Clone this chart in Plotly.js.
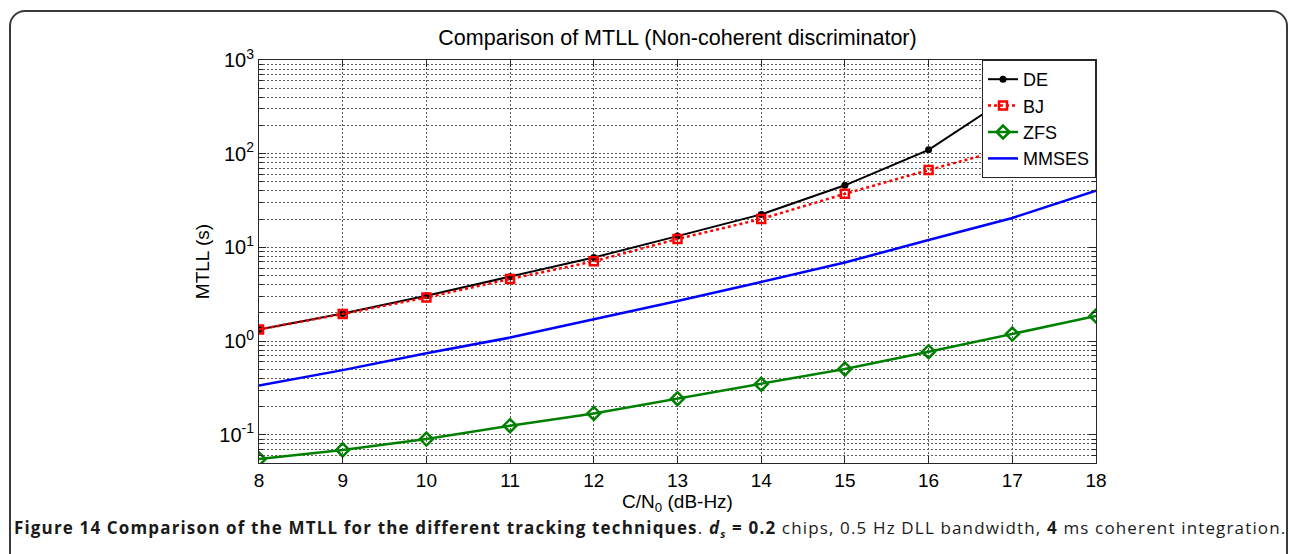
<!DOCTYPE html>
<html>
<head>
<meta charset="utf-8">
<script src="https://cdn.plot.ly/plotly-3.0.1.min.js"></script>
<style>
  html, body { margin: 0; padding: 0; background: #fff; }
  #wrap { position: relative; width: 1290px; height: 554px; overflow: hidden; }
  #frame {
    position: absolute; left: 9px; top: 10px; width: 1279px; height: 600px;
    border: 2px solid #3a3a3a; border-radius: 16px; box-sizing: border-box;
    pointer-events: none;
  }
  #chart { position: absolute; left: 0; top: 0; width: 1290px; height: 554px; }
  #caption {
    position: absolute; left: 14px; top: 516px; white-space: nowrap;
    font-family: 'Open Sans', 'Noto Sans', sans-serif; font-size: 17px;
    letter-spacing: 1.15px; color: #1a1a1a; line-height: 24px;
  }
  #caption sub { font-size: 11px; line-height: 0; }
</style>
</head>
<body>
<div id="wrap">
  <div id="chart"></div>
  <div id="frame"></div>
  <div id="caption"><b>Figure 14 Comparison of the MTLL for the different tracking techniques</b>. <b><i>d<sub>s</sub></i> = 0.2</b> chips, 0.5 Hz DLL bandwidth, <b>4</b> ms coherent integration.</div>
</div>
<script>
// C/N0 values (dB-Hz)
const cn0 = [8, 9, 10, 11, 12, 13, 14, 15, 16, 17, 18];

// Mean time to loss of lock (s) for each tracking technique
const mtllDE    = [1.33, 1.97, 3.05, 4.85, 7.8, 13.2, 22.5, 46, 110, 425, 3500];
const mtllBJ    = [1.33, 1.95, 2.92, 4.6, 7.1, 12.3, 20.1, 37.3, 67, 117, 197];
const mtllZFS   = [0.055, 0.069, 0.090, 0.125, 0.169, 0.243, 0.347, 0.505, 0.77, 1.19, 1.85];
const mtllMMSES = [0.336, 0.49, 0.74, 1.09, 1.71, 2.68, 4.28, 6.9, 12.0, 20.6, 40.4];

// Axis ticks
const xTicks = [8, 9, 10, 11, 12, 13, 14, 15, 16, 17, 18];
const yMajorVals = [0.1, 1, 10, 100, 1000];
const yMajorText = ['10<sup>-1</sup>', '10<sup>0</sup>', '10<sup>1</sup>', '10<sup>2</sup>', '10<sup>3</sup>'];
const yMinorVals = [0.05, 0.06, 0.07, 0.08, 0.09,
  0.2, 0.3, 0.4, 0.5, 0.6, 0.7, 0.8, 0.9,
  2, 3, 4, 5, 6, 7, 8, 9,
  20, 30, 40, 50, 60, 70, 80, 90,
  200, 300, 400, 500, 600, 700, 800, 900];

const FONT = 'Liberation Sans, Arial, Helvetica, sans-serif';
const AXIS_COLOR = '#262626';
const GRID_COLOR = '#5a5a5a';
const GRID_DASH = '2px,2px';
const yRange = [Math.log10(0.05), 3];

const traces = [
  {
    name: 'DE', x: cn0, y: mtllDE, type: 'scatter', mode: 'lines+markers',
    line: { color: '#000000', width: 2 },
    marker: { symbol: 'circle', size: 7, color: '#000000' }
  },
  {
    name: 'BJ', x: cn0, y: mtllBJ, type: 'scatter', mode: 'lines+markers',
    line: { color: '#ff0000', width: 2.5, dash: '3px,3px' },
    marker: { symbol: 'square-open', size: 8, color: '#ff0000', line: { width: 2.5, color: '#ff0000' } }
  },
  {
    name: 'ZFS', x: cn0, y: mtllZFS, type: 'scatter', mode: 'lines+markers',
    line: { color: '#008000', width: 2.5 },
    marker: { symbol: 'diamond-open', size: 10, color: '#008000', line: { width: 2.5, color: '#008000' } }
  },
  {
    name: 'MMSES', x: cn0, y: mtllMMSES, type: 'scatter', mode: 'lines',
    line: { color: '#0000ff', width: 2.5 }
  },
  // invisible companion so the minor-tick axis is drawn
  { x: [8], y: [1], yaxis: 'y2', type: 'scatter', mode: 'markers',
    marker: { opacity: 0 }, showlegend: false, hoverinfo: 'skip' }
];

const layout = {
  width: 1290, height: 554,
  paper_bgcolor: 'rgba(0,0,0,0)', plot_bgcolor: '#ffffff',
  margin: { l: 259, r: 194, t: 60, b: 91, pad: 0 },
  font: { family: FONT, size: 19, color: '#000' },
  showlegend: true,
  title: {
    text: 'Comparison of MTLL (Non-coherent discriminator)',
    font: { family: FONT, size: 21.5, color: '#000' },
    x: 0.5, xref: 'paper', xanchor: 'center',
    y: 1 - 37 / 554, yref: 'container', yanchor: 'middle'
  },
  xaxis: {
    range: [8, 18], tickvals: xTicks, ticktext: xTicks.map(String),
    ticks: 'inside', ticklen: 7, tickcolor: AXIS_COLOR, tickwidth: 1,
    showline: true, linecolor: AXIS_COLOR, linewidth: 1, mirror: 'ticks',
    showgrid: true, gridcolor: GRID_COLOR, griddash: GRID_DASH, gridwidth: 1,
    zeroline: false, tickfont: { family: FONT, size: 19 },
    title: { text: 'C/N<sub>0</sub> (dB-Hz)', font: { family: FONT, size: 19 }, standoff: 0 }
  },
  yaxis: {
    type: 'log', range: yRange, tickvals: yMajorVals, ticktext: yMajorText,
    ticks: 'inside', ticklen: 7, tickcolor: AXIS_COLOR, tickwidth: 1,
    showline: true, linecolor: AXIS_COLOR, linewidth: 1, mirror: 'ticks',
    showgrid: true, gridcolor: GRID_COLOR, griddash: GRID_DASH, gridwidth: 1,
    zeroline: false, tickfont: { family: FONT, size: 20 },
    title: { text: 'MTLL (s)', font: { family: FONT, size: 19 }, standoff: 4 }
  },
  yaxis2: {
    type: 'log', range: yRange, overlaying: 'y', side: 'left',
    tickvals: yMinorVals,
    ticks: 'inside', ticklen: 4, tickcolor: AXIS_COLOR, tickwidth: 1,
    showline: false, mirror: 'ticks',
    showgrid: true, gridcolor: GRID_COLOR, griddash: GRID_DASH, gridwidth: 1,
    zeroline: false, showticklabels: false
  },
  legend: {
    x: 1, xanchor: 'right', y: 1, yanchor: 'top',
    bgcolor: '#ffffff', bordercolor: AXIS_COLOR, borderwidth: 1,
    font: { family: FONT, size: 18, color: '#000' },
    itemwidth: 30, tracegroupgap: 0
  }
};

Plotly.newPlot('chart', traces, layout, { displayModeBar: false, staticPlot: true });
</script>
</body>
</html>
